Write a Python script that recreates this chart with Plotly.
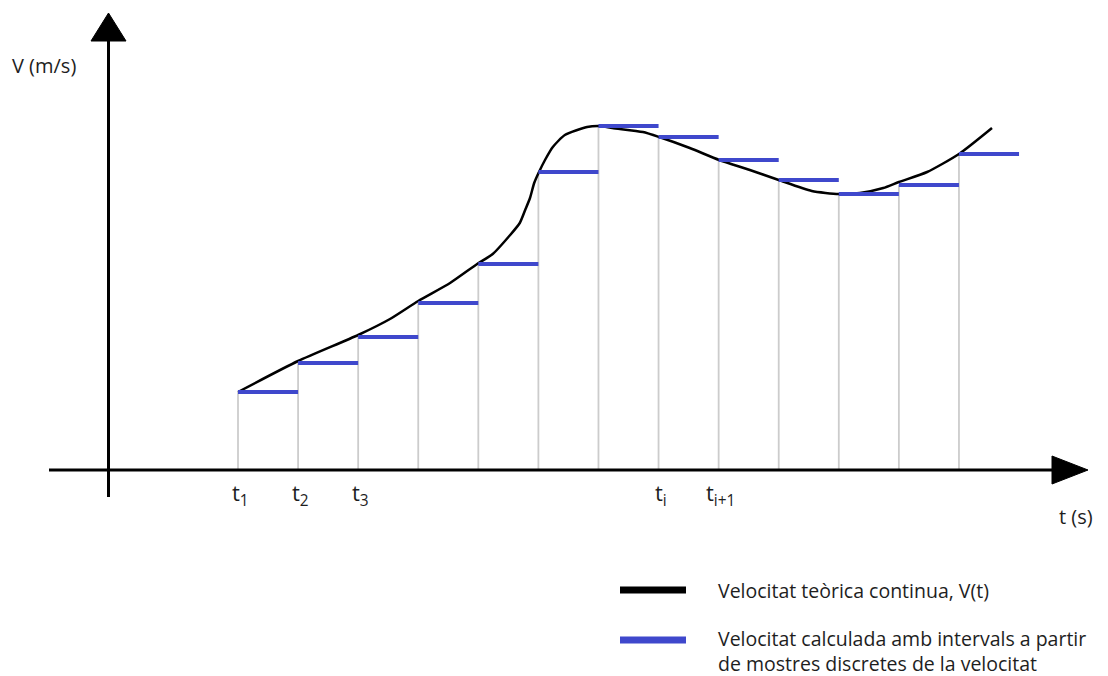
import plotly.graph_objects as go

# ---------------- data ----------------
# sample instants (index k of t_k) and sampled velocities v(t_k)
sample_t = [1, 2, 3, 4, 5, 6, 7, 8, 9, 10, 11, 12, 13]
sample_v = [7.8, 10.7, 13.3, 16.7, 20.6, 29.8, 34.4, 33.3, 31.0, 29.0, 27.6, 28.5, 31.6]
interval = 1.0

# continuous theoretical velocity V(t)
curve_t = [1.0, 2.0, 3.0, 3.53, 4.0, 4.53, 4.98, 5.24, 5.53, 5.69, 5.78, 5.86, 5.93,
           6.01, 6.11, 6.24, 6.44, 6.81, 7.03, 7.23, 7.74, 8.01, 8.52, 9.01, 9.52,
           10.0, 10.55, 11.0, 11.35, 11.74, 12.0, 12.47, 13.0, 13.55]
curve_v = [7.8, 10.9, 13.5, 15.1, 16.9, 18.7, 20.6, 21.6, 23.5, 24.7, 26.0, 27.2, 28.7,
           29.8, 31.0, 32.3, 33.5, 34.3, 34.4, 34.2, 33.8, 33.3, 32.2, 31.0, 30.0,
           29.0, 27.9, 27.6, 27.7, 28.2, 28.8, 29.8, 31.6, 34.2]

# tick labels on the time axis
tick_pos = [1, 2, 3, 8, 9]
tick_labels = ["t<sub>1</sub>", "t<sub>2</sub>", "t<sub>3</sub>", "t<sub>i</sub>", "t<sub>i+1</sub>"]

axis_title_y = "V (m/s)"
axis_title_x = "t (s)"
legend_labels = ["Velocitat teòrica continua, V(t)",
                 "Velocitat calculada amb intervals a partir<br>de mostres discretes de la velocitat"]

# ---------------- styling ----------------
OFF = 8                      # page body margin
W, H = 1108 - OFF, 676 - OFF
BLUE = "#3f48cc"
GRAY = "#cccccc"
TXT = "#1e1e1e"
FONT = "Open Sans"

def X(px):
    return (px - OFF) / W

def Y(py):
    return 1 - (py - OFF) / H

# ---------------- traces ----------------
gx, gy = [], []
for t, v in zip(sample_t, sample_v):
    gx += [t, t, None]
    gy += [0, v, None]

bx, by = [], []
for t, v in zip(sample_t, sample_v):
    bx += [t, t + interval, None]
    by += [v, v, None]

fig = go.Figure()
fig.add_trace(go.Scatter(x=gx, y=gy, mode="lines",
                         line=dict(color=GRAY, width=1.8), hoverinfo="skip"))
fig.add_trace(go.Scatter(x=curve_t, y=curve_v, mode="lines",
                         line=dict(color="black", width=2.5, shape="spline", smoothing=0.6),
                         hoverinfo="skip"))
fig.add_trace(go.Scatter(x=bx, y=by, mode="lines",
                         line=dict(color=BLUE, width=4), hoverinfo="skip"))

# ---------------- axes drawn as arrows ----------------
shapes = [
    dict(type="line", xref="paper", yref="paper", x0=X(49), x1=X(1055), y0=Y(470), y1=Y(470),
         line=dict(color="black", width=3)),
    dict(type="path", xref="paper", yref="paper",
         path=f"M {X(1052)} {Y(456)} L {X(1088)} {Y(470)} L {X(1052)} {Y(484)} Z",
         fillcolor="black", line=dict(color="black", width=1)),
    dict(type="line", xref="paper", yref="paper", x0=X(108.5), x1=X(108.5), y0=Y(497), y1=Y(38),
         line=dict(color="black", width=3)),
    dict(type="path", xref="paper", yref="paper",
         path=f"M {X(91)} {Y(41)} L {X(108.5)} {Y(13)} L {X(126)} {Y(41)} Z",
         fillcolor="black", line=dict(color="black", width=1)),
    dict(type="line", xref="paper", yref="paper", x0=X(620), x1=X(686), y0=Y(590), y1=Y(590),
         line=dict(color="black", width=7)),
    dict(type="line", xref="paper", yref="paper", x0=X(620), x1=X(686), y0=Y(640), y1=Y(640),
         line=dict(color=BLUE, width=7)),
]

annotations = []
for p, lab in zip(tick_pos, tick_labels):
    annotations.append(dict(x=p, y=0, xref="x", yref="y", text=lab, showarrow=False,
                            xanchor="center", yanchor="middle", yshift=-24, xshift=2,
                            font=dict(family=FONT, size=22, color=TXT)))
annotations += [
    dict(x=X(10), y=Y(66), xref="paper", yref="paper", text=axis_title_y, showarrow=False,
         xanchor="left", yanchor="middle", font=dict(family=FONT, size=20, color=TXT)),
    dict(x=X(1057), y=Y(516), xref="paper", yref="paper", text=axis_title_x, showarrow=False,
         xanchor="left", yanchor="middle", font=dict(family=FONT, size=20, color=TXT)),
    dict(x=X(716), y=Y(590), xref="paper", yref="paper", text=legend_labels[0], showarrow=False,
         xanchor="left", yanchor="middle", font=dict(family=FONT, size=19.5, color=TXT)),
    dict(x=X(716), y=Y(651), xref="paper", yref="paper", text=legend_labels[1], showarrow=False,
         xanchor="left", yanchor="middle", align="left",
         font=dict(family=FONT, size=19.5, color=TXT)),
]

fig.update_layout(
    width=W, height=H, autosize=False,
    margin=dict(l=0, r=0, t=0, b=0, pad=0),
    paper_bgcolor="white", plot_bgcolor="white",
    showlegend=False,
    xaxis=dict(range=[1 + (OFF - 238) / 60.08, 1 + 870 / 60.08], visible=False, fixedrange=True),
    yaxis=dict(range=[(470 - 676) / 10, (470 - OFF) / 10], visible=False, fixedrange=True),
    shapes=shapes, annotations=annotations,
)

fig.write_html("out.html", config={"displayModeBar": False})
